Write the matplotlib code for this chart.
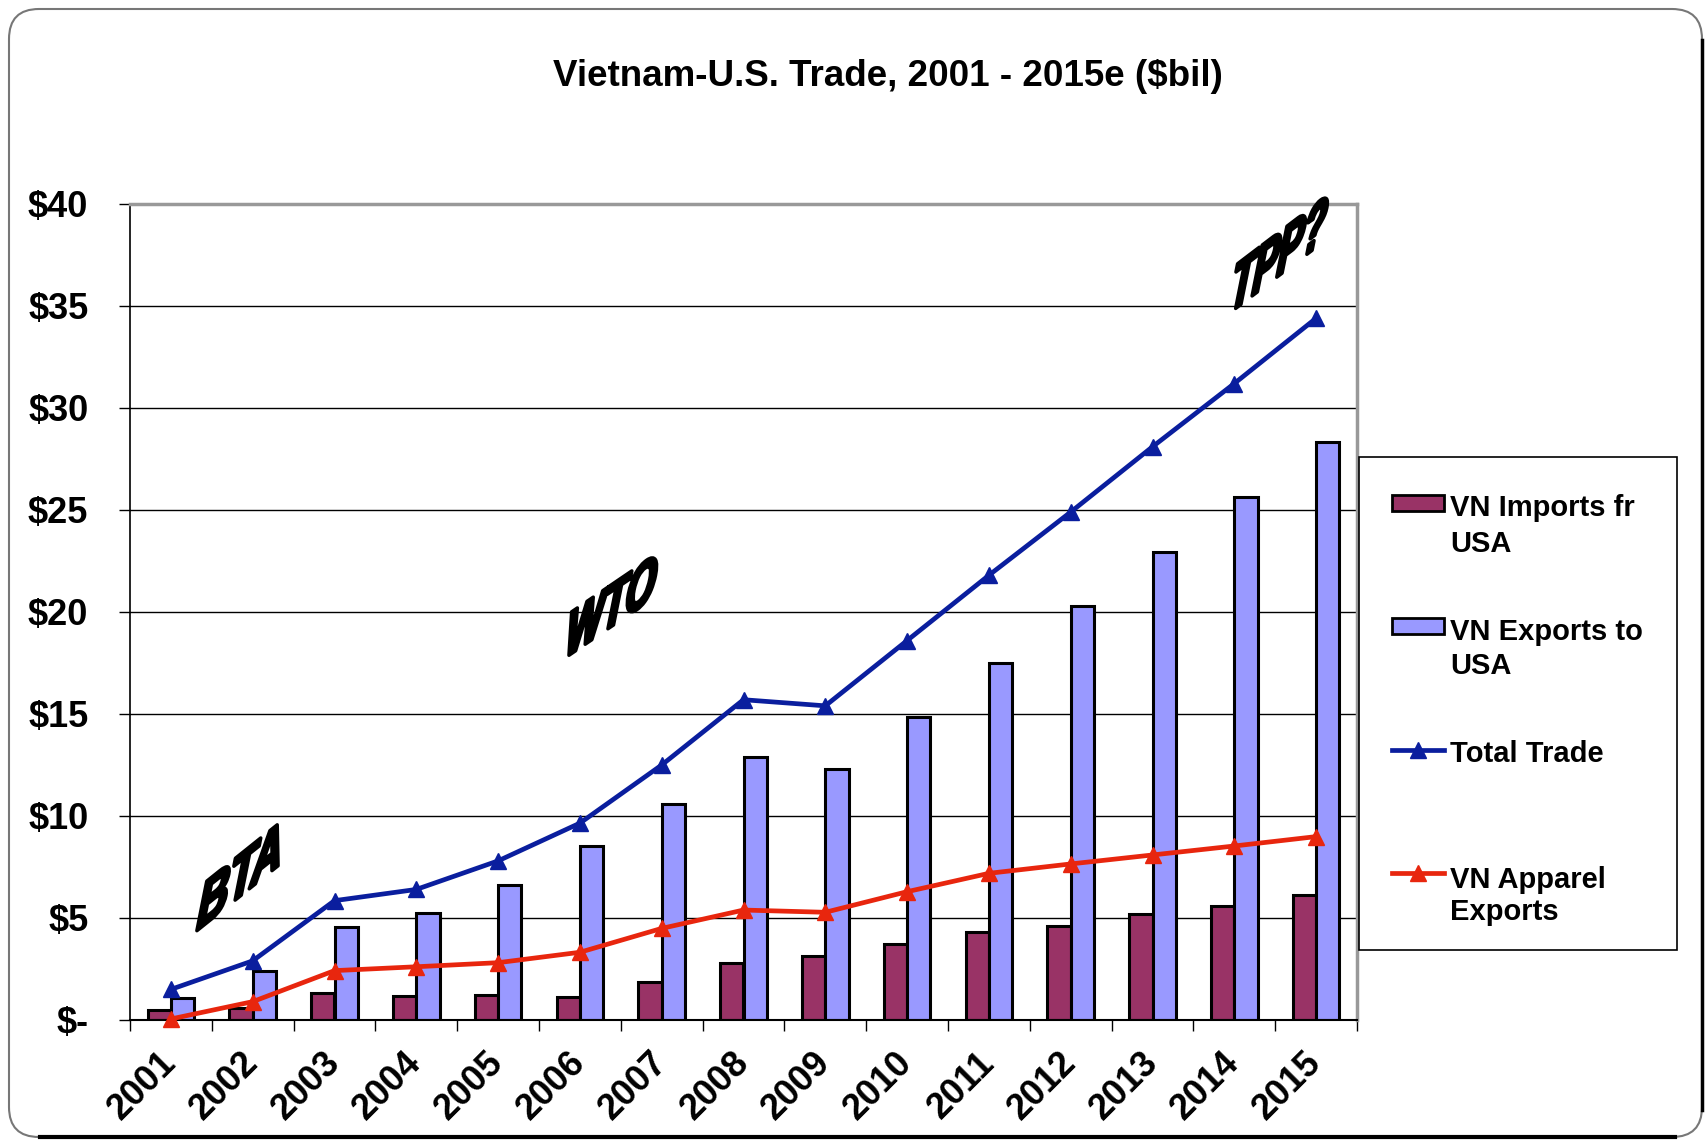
import numpy as np
import matplotlib
matplotlib.use('Agg')
import matplotlib.pyplot as plt
from matplotlib.patches import Rectangle, FancyBboxPatch, PathPatch
from matplotlib.lines import Line2D
from matplotlib.textpath import TextPath
from matplotlib.font_manager import FontProperties
from matplotlib.transforms import Affine2D, IdentityTransform

W, H = 1705, 1140
FONT = 'Liberation Sans'

years = ['2001', '2002', '2003', '2004', '2005', '2006', '2007', '2008',
         '2009', '2010', '2011', '2012', '2013', '2014', '2015']
imports_fr_usa = [0.49, 0.60, 1.34, 1.18, 1.21, 1.11, 1.88, 2.78,
                  3.14, 3.73, 4.33, 4.61, 5.18, 5.59, 6.13]
exports_to_usa = [1.06, 2.40, 4.54, 5.26, 6.62, 8.55, 10.59, 12.88,
                  12.29, 14.87, 17.49, 20.27, 22.93, 25.65, 28.32]
total_trade = [1.50, 2.90, 5.85, 6.40, 7.80, 9.65, 12.50, 15.70,
               15.40, 18.60, 21.80, 24.90, 28.10, 31.20, 34.40]
apparel_exports = [0.05, 0.90, 2.42, 2.61, 2.81, 3.32, 4.49, 5.39,
                   5.28, 6.29, 7.19, 7.65, 8.09, 8.53, 8.99]
y_ticks = [0, 5, 10, 15, 20, 25, 30, 35, 40]
y_labels = ['$-', '$5', '$10', '$15', '$20', '$25', '$30', '$35', '$40']

C_IMP = '#993366'
C_EXP = '#9999FF'
C_TOT = '#0A1E9E'
C_APP = '#E8260E'


def fxy(x, y):
    # pixel (from top-left) -> figure fraction
    return x / W, 1 - y / H


def wordart(fig, text, x0, y0, sx, sy, tx, ty):
    path = TextPath((0, 0), text, size=1,
                    prop=FontProperties(family=FONT, weight='bold'))
    tr = (Affine2D().scale(sx, sy)
          .skew(np.arctan(tx), np.arctan(ty))
          .translate(x0, H - y0))
    fig.add_artist(PathPatch(path, transform=tr, facecolor='black',
                             edgecolor='black', lw=2.5, joinstyle='round', zorder=10))


fig = plt.figure(figsize=(W / 100, H / 100), dpi=100)

# rounded outer frame
fig.add_artist(FancyBboxPatch((9, 3), W - 12, H - 12,
                              boxstyle='round,pad=0,rounding_size=30',
                              transform=IdentityTransform(),
                              facecolor='none', edgecolor='#777777', lw=1.5))
fig.add_artist(Line2D([W - 3, W - 3], [30, H - 40], transform=IdentityTransform(),
                      color='black', lw=2.5))
fig.add_artist(Line2D([40, W - 30], [3, 3], transform=IdentityTransform(),
                      color='black', lw=3))

ax = fig.add_axes([130 / W, 1 - 1020 / H, 1227 / W, 816 / H])
x = np.arange(len(years))
bw = 0.286
ax.bar(x - bw / 2, imports_fr_usa, bw, color=C_IMP, edgecolor='black', lw=2.2, zorder=2)
ax.bar(x + bw / 2, exports_to_usa, bw, color=C_EXP, edgecolor='black', lw=2.2, zorder=2)
ax.plot(x, total_trade, color=C_TOT, lw=3.4, marker='^', ms=12, zorder=3)
ax.plot(x, apparel_exports, color=C_APP, lw=3.4, marker='^', ms=12, zorder=3, clip_on=False)

ax.set_xlim(-0.5, len(years) - 0.5)
ax.set_ylim(0, 40)
ax.set_yticks(y_ticks)
ax.set_yticklabels(y_labels, fontfamily=FONT, fontweight='bold', fontsize=26)
ax.tick_params(axis='y', length=8, width=1, direction='out', pad=22)
ax.set_xticks(x)
ax.set_xticklabels(years, rotation=45, ha='right', va='center',
                   rotation_mode='anchor', fontfamily=FONT, fontweight='bold', fontsize=26)
ax.tick_params(axis='x', which='major', length=0, pad=27)
ax.set_xticks(np.arange(-0.5, len(years)), minor=True)
ax.tick_params(axis='x', which='minor', length=8, width=1, direction='out')
ax.yaxis.grid(True, color='black', lw=1)
ax.set_axisbelow(True)
for s in ['top', 'right']:
    ax.spines[s].set_color('#999999')
    ax.spines[s].set_linewidth(2.5)
ax.spines['left'].set_linewidth(1.2)
ax.spines['bottom'].set_linewidth(1.5)

fig.text(*fxy(888, 76), 'Vietnam-U.S. Trade, 2001 - 2015e ($bil)', ha='center', va='center',
         fontfamily=FONT, fontweight='bold', fontsize=26.5)

# legend box
lx0, ly0, lx1, ly1 = 1359, 457, 1677, 950
fig.add_artist(Rectangle(fxy(lx0, ly1), (lx1 - lx0) / W, (ly1 - ly0) / H,
                         transform=fig.transFigure, facecolor='white',
                         edgecolor='black', lw=1.2))
hx0, hx1, tx = 1392, 1444, 1450
fig.add_artist(Rectangle(fxy(hx0, 511), (hx1 - hx0) / W, 16 / H, transform=fig.transFigure,
                         facecolor=C_IMP, edgecolor='black', lw=2))
fig.add_artist(Rectangle(fxy(hx0, 634), (hx1 - hx0) / W, 16 / H, transform=fig.transFigure,
                         facecolor=C_EXP, edgecolor='black', lw=2))
for yy, col in [(750, C_TOT), (873, C_APP)]:
    fig.add_artist(Line2D([hx0 / W, hx1 / W], [1 - yy / H] * 2, transform=fig.transFigure,
                          color=col, lw=3.4))
    fig.add_artist(Line2D([(hx0 + hx1) / 2 / W], [1 - yy / H], transform=fig.transFigure,
                          color=col, marker='^', ms=12))
for yy, s in [(506, 'VN Imports fr'), (541, 'USA'), (630, 'VN Exports to'), (663, 'USA'),
              (752, 'Total Trade'), (877, 'VN Apparel'), (910, 'Exports')]:
    fig.text(*fxy(tx, yy + 10.5), s, ha='left', va='baseline',
             fontfamily=FONT, fontweight='bold', fontsize=21)

# WordArt-like annotations
wordart(fig, 'BTA', 194, 933, 43, 72, 0.2, 0.8)
wordart(fig, 'WTO', 562, 660, 39, 70, 0.2, 0.68)
wordart(fig, 'TPP?', 1227, 315, 37, 74, 0.2, 0.76)

fig.savefig('out.png', dpi=100)
